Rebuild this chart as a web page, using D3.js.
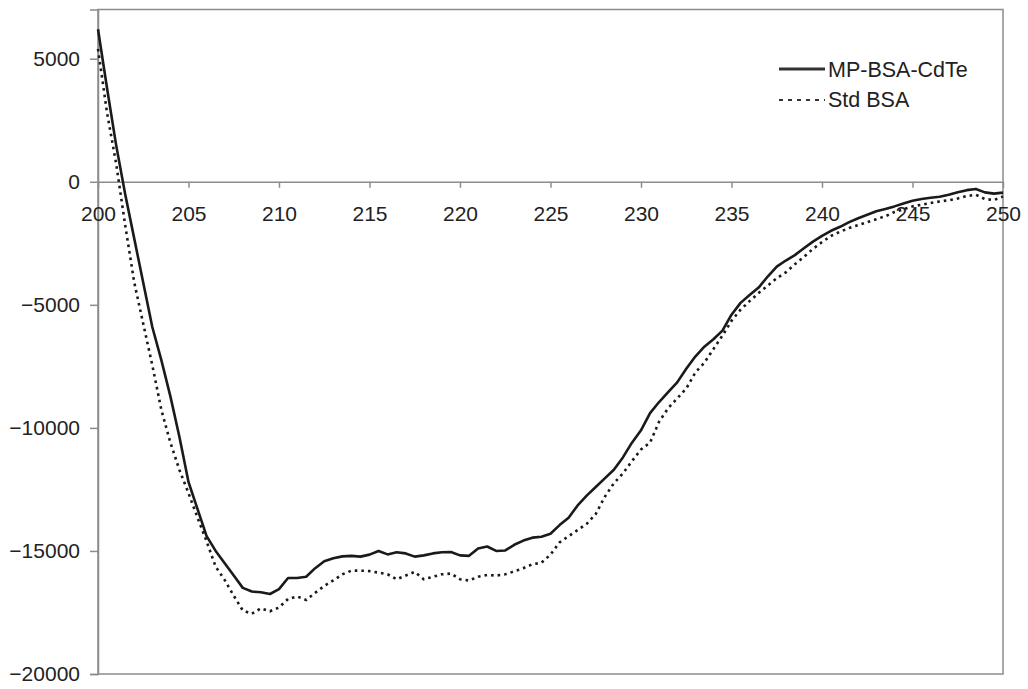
<!DOCTYPE html>
<html>
<head>
<meta charset="utf-8">
<script src="https://cdn.jsdelivr.net/npm/d3@7"></script>
<style>
  html, body { margin: 0; padding: 0; background: #fff; }
  svg text { font-family: "Liberation Sans", Arial, sans-serif; }
</style>
</head>
<body>
<svg id="chart" width="1028" height="689"></svg>
<script>
// Wavelength (nm), 0.5 nm steps from 200 to 250
const wavelengths = d3.range(200, 250.001, 0.5);

const mpBsaCdTe = [
  6200, 3800, 1500, -500, -2300, -4100, -5900, -7250, -8720, -10370,
  -12200, -13300, -14400, -15000, -15500, -16000, -16500, -16650, -16680, -16750,
  -16550, -16100, -16100, -16050, -15700, -15420, -15300, -15220, -15200, -15230,
  -15150, -15000, -15140, -15050, -15100, -15230, -15180, -15100, -15050, -15040,
  -15180, -15200, -14900, -14820, -15000, -14980, -14750, -14580, -14460, -14420,
  -14300, -13950, -13650, -13150, -12750, -12400, -12050, -11700, -11200, -10600,
  -10100, -9400, -8950, -8550, -8150, -7600, -7100, -6700, -6400, -6050,
  -5400, -4920, -4600, -4300, -3850, -3450, -3200, -2980, -2700, -2430,
  -2200, -1990, -1830, -1640, -1480, -1340, -1200, -1110, -1000, -880,
  -770, -700, -650, -605, -530, -430, -340, -290, -430, -480,
  -440
];

const stdBsa = [
  5400, 2800, 750, -1750, -4080, -5770, -7450, -9270, -10600, -11710,
  -12650, -13650, -14610, -15640, -16180, -16820, -17420, -17550, -17330, -17450,
  -17300, -16950, -16850, -16990, -16700, -16420, -16200, -15950, -15800, -15800,
  -15820, -15880, -15950, -16150, -16000, -15850, -16150, -16050, -15950, -15920,
  -16150, -16200, -16050, -15980, -16000, -15950, -15830, -15700, -15540, -15480,
  -15150, -14650, -14400, -14150, -13900, -13500, -12800, -12250, -11850, -11350,
  -10880, -10600, -9750, -9200, -8800, -8400, -7750, -7350, -6800, -6250,
  -5650, -5200, -4850, -4520, -4220, -3920, -3680, -3350, -3050, -2730,
  -2450, -2200, -2030, -1880, -1760, -1640, -1520, -1400, -1230, -1120,
  -1000, -930, -860, -800, -750, -680, -580, -530, -700, -740,
  -600
];

const xTicks = [200, 205, 210, 215, 220, 225, 230, 235, 240, 245, 250];
const yTicks = [5000, 0, -5000, -10000, -15000, -20000];
const seriesNames = ["MP-BSA-CdTe", "Std BSA"];

const svg = d3.select("#chart");
const plot = { left: 98, right: 1003, top: 9.5, bottom: 674 };

const x = d3.scaleLinear().domain([200, 250]).range([plot.left, plot.right]);
const y = d3.scaleLinear().domain([-20000, 7000]).range([plot.bottom, plot.top]);

const axisColor = "#8c8c8c";
const textColor = "#222";

// Plot area border
svg.append("rect")
  .attr("x", plot.left).attr("y", plot.top)
  .attr("width", plot.right - plot.left).attr("height", plot.bottom - plot.top)
  .attr("fill", "none").attr("stroke", axisColor).attr("stroke-width", 1.5);

// Y axis
const yAxis = svg.append("g")
  .attr("transform", `translate(${plot.left},0)`)
  .call(d3.axisLeft(y).tickValues(yTicks).tickSize(8).tickPadding(10).tickFormat(d3.format("d")));
yAxis.select(".domain").attr("stroke", axisColor).attr("stroke-width", 1.5);
yAxis.selectAll(".tick line").attr("stroke", axisColor).attr("stroke-width", 1.5);
yAxis.selectAll("text").attr("fill", textColor).style("font-size", "21px");

// X axis at y = 0
const xAxis = svg.append("g")
  .attr("transform", `translate(0,${y(0)})`)
  .call(d3.axisBottom(x).tickValues(xTicks).tickSize(6).tickPadding(18).tickSizeOuter(0).tickFormat(d3.format("d")));
xAxis.select(".domain").attr("stroke", axisColor).attr("stroke-width", 1.5);
xAxis.selectAll(".tick line").attr("stroke", axisColor).attr("stroke-width", 1.5);
xAxis.selectAll("text").attr("fill", textColor).style("font-size", "21px");

// Lines
const line = d3.line()
  .x((d, i) => x(wavelengths[i]))
  .y(d => y(d))
  .curve(d3.curveLinear);

svg.append("path")
  .datum(stdBsa)
  .attr("d", line)
  .attr("fill", "none")
  .attr("stroke", "#1a1a1a")
  .attr("stroke-width", 2.6)
  .attr("stroke-dasharray", "2.6,4");

svg.append("path")
  .datum(mpBsaCdTe)
  .attr("d", line)
  .attr("fill", "none")
  .attr("stroke", "#1a1a1a")
  .attr("stroke-width", 2.6)
  .attr("stroke-linejoin", "round");

// Legend
const legend = svg.append("g");
const legendItems = [
  { name: seriesNames[0], ly: 69, ty: 77, dash: null },
  { name: seriesNames[1], ly: 100, ty: 107, dash: "4,5" }
];
legendItems.forEach(it => {
  legend.append("line")
    .attr("x1", 779).attr("x2", 825)
    .attr("y1", it.ly).attr("y2", it.ly)
    .attr("stroke", "#333")
    .attr("stroke-width", it.dash ? 2 : 3)
    .attr("stroke-dasharray", it.dash);
  legend.append("text")
    .attr("x", 828).attr("y", it.ty)
    .attr("fill", textColor)
    .style("font-size", "21.5px")
    .text(it.name);
});
</script>
</body>
</html>
